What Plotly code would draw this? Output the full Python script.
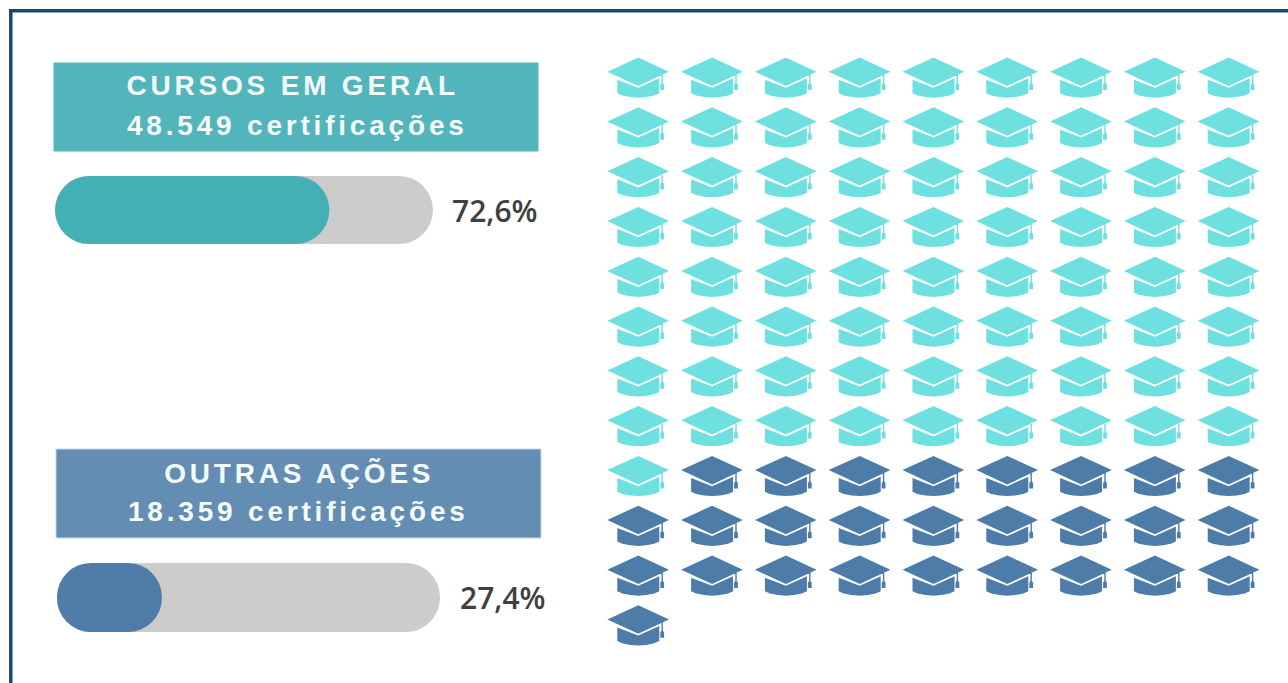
import plotly.graph_objects as go

W, H = 1288, 683

# ---- data ----
GROUPS = ["CURSOS EM GERAL", "OUTRAS AÇÕES"]
CERTIFICATIONS = ["48.549 certificações", "18.359 certificações"]
SHARES = [72.6, 27.4]
ICON_COUNTS = [73, 27]
COLS = 9
ROWS = 12

# ---- styles ----
ICON_COLORS = ["#6fe0e0", "#4d7ca9"]
HEADER_COLORS = ["#52b5bb", "#648db3"]
BAR_COLORS = ["#43b0b6", "#4f7ca8"]
TRACK = "#cccccc"
FRAME = "#16477a"
HEADER_BOX = [(54, 63, 538, 151), (56, 449, 541, 538)]
TEXT_X = [(292, 297), (299, 298.5)]
TEXT_Y = [(86, 126), (473, 511)]
BAR_BOX = [(55, 176, 433, 244), (57, 563, 440, 632)]
LABEL_SHIFT = [17, 18]
PITCH_X, PITCH_Y = 73.8, 49.8
X0, Y0 = 638.3, 77.5

# mortarboard outline, pixels relative to the icon centre
CAP = [(-31, -5.8), (0, -20), (30.7, -5.8), (0, 8.5)]
BODY = [(-21, 2.2), (0, 10.3), (21, 0.8), (21, 15.8), (16, 18), (8, 19.6), (0, 20.2),
        (-8, 19.6), (-16, 18), (-21, 15.8)]
CORD = [(23.2, -3), (24.6, -3.6), (24.6, 5.5), (25.8, 7), (25.8, 12.5), (22, 12.5), (22, 7), (23.2, 5.5)]
GLYPH = [CAP, BODY, CORD]


def fx(px):
    return px / W


def fy(py):
    return 1 - py / H


def icons(cells):
    xs, ys = [], []
    for col, row in cells:
        for part in GLYPH:
            closed = part + part[:1]
            xs += [col + dx / PITCH_X for dx, _ in closed] + [None]
            ys += [row + dy / PITCH_Y for _, dy in closed] + [None]
    return xs, ys


fig = go.Figure()

# waffle: filled row by row
cells = [(i % COLS, i // COLS) for i in range(sum(ICON_COUNTS))]
start = 0
for name, count, colour in zip(GROUPS, ICON_COUNTS, ICON_COLORS):
    xs, ys = icons(cells[start:start + count])
    start += count
    fig.add_trace(go.Scatter(x=xs, y=ys, mode="lines", fill="toself", fillcolor=colour,
                             line=dict(width=0, color=colour), name=name,
                             hoverinfo="name", xaxis="x", yaxis="y"))

fig.update_layout(
    xaxis=dict(domain=[fx(X0 - PITCH_X / 2), fx(X0 + 8.5 * PITCH_X)], range=[-0.5, 8.5], visible=False),
    yaxis=dict(domain=[fy(Y0 + 11.5 * PITCH_Y), fy(Y0 - PITCH_Y / 2)], range=[11.5, -0.5], visible=False),
)

annotations, shapes = [], []
for i, (share, box) in enumerate(zip(SHARES, BAR_BOX)):
    xa, ya = f"x{i + 2}", f"y{i + 2}"
    left, top, right, bottom = box
    radius = (bottom - top) // 2
    for total, colour in ((100, TRACK), (share, BAR_COLORS[i])):
        # an explicit base makes plotly round both ends of the bar
        fig.add_trace(go.Bar(y=[0], x=[total], base=[0], orientation="h", width=1,
                             marker=dict(color=colour, cornerradius=radius, line_width=0),
                             xaxis=xa, yaxis=ya, hoverinfo="skip"))
    fig.layout[f"xaxis{i + 2}"] = dict(domain=[fx(left), fx(right)], range=[0, 100], visible=False, anchor=ya)
    fig.layout[f"yaxis{i + 2}"] = dict(domain=[fy(bottom), fy(top)], range=[-0.5, 0.5], visible=False, anchor=xa)
    annotations.append(dict(xref=xa, yref=ya, x=100, y=0, xanchor="left", yanchor="middle",
                            xshift=LABEL_SHIFT[i], showarrow=False,
                            text=f"{share:.1f}%".replace(".", ","),
                            font=dict(family="Open Sans", size=30, color="#404040", weight=600)))

    # header band
    hl, ht, hr, hb = HEADER_BOX[i]
    shapes.append(dict(type="rect", xref="paper", yref="paper", x0=fx(hl), x1=fx(hr), y0=fy(hb), y1=fy(ht),
                       fillcolor=HEADER_COLORS[i], line=dict(width=1, color="#c4d8e6" if i else HEADER_COLORS[i]),
                       layer="below"))
    for text, px, py in zip((GROUPS[i], CERTIFICATIONS[i]), TEXT_X[i], TEXT_Y[i]):
        annotations.append(dict(xref="paper", yref="paper", x=fx(px), y=fy(py), xanchor="center",
                                yanchor="middle", showarrow=False, text=text,
                                font=dict(family="Liberation Sans", size=28, color="#f4fbfb", weight=700)))

# frame runs off the right and bottom edges of the page
shapes.append(dict(type="line", xref="paper", yref="paper", x0=fx(9), x1=1, y0=fy(10.8), y1=fy(10.8),
                   line=dict(width=3.5, color=FRAME)))
shapes.append(dict(type="line", xref="paper", yref="paper", x0=fx(10.8), x1=fx(10.8), y0=0, y1=fy(9),
                   line=dict(width=3.5, color=FRAME)))

fig.update_layout(width=W, height=H, margin=dict(l=0, r=0, t=0, b=0), showlegend=False,
                  paper_bgcolor="white", plot_bgcolor="white", barmode="overlay",
                  annotations=annotations, shapes=shapes)

POST = """
document.body.style.margin='0';
document.querySelectorAll('.annotation-text').forEach(function(t){
  if(t.textContent.indexOf('%')<0){t.style.letterSpacing='3.8px';}
});
"""
fig.write_html("out.html", post_script=POST, config=dict(displayModeBar=False))
